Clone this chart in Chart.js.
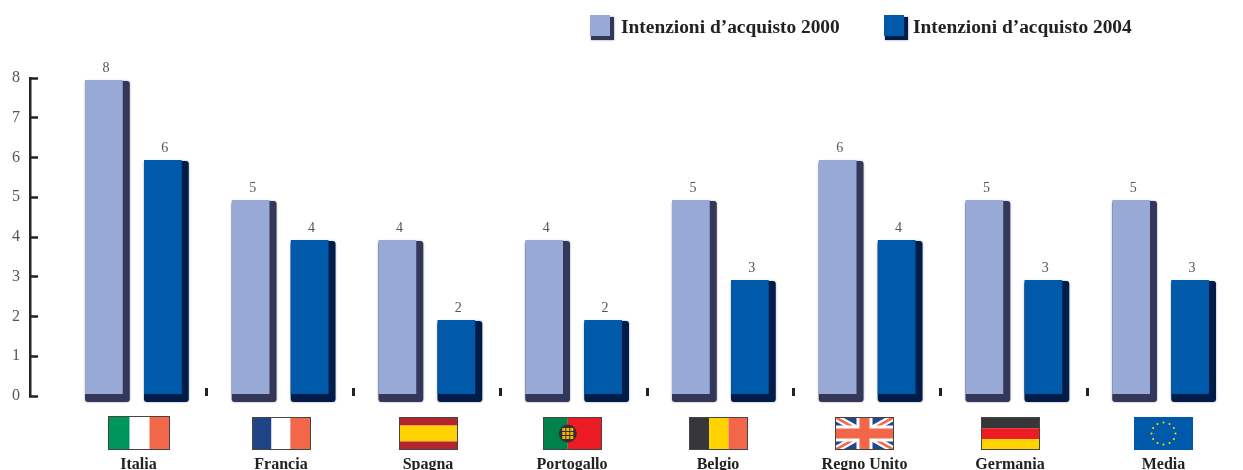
<!DOCTYPE html>
<html>
<head>
<meta charset="utf-8">
<title>Intenzioni d'acquisto</title>
<script src="https://cdn.jsdelivr.net/npm/chart.js@4"></script>
<style>
  html, body { margin: 0; padding: 0; background: #fff; }
  canvas { display: block; filter: blur(0.5px); }
</style>
</head>
<body>
<canvas id="myChart" width="1243" height="470"></canvas>
<script>
const categorie = ['Italia', 'Francia', 'Spagna', 'Portogallo', 'Belgio', 'Regno Unito', 'Germania', 'Media']
const valori2000 = [8, 5, 4, 4, 5, 6, 5, 5]
const valori2004 = [6, 4, 2, 2, 3, 4, 3, 3]
const tickY = [0, 1, 2, 3, 4, 5, 6, 7, 8]
const nomeSerie2000 = 'Intenzioni d’acquisto 2000'
const nomeSerie2004 = 'Intenzioni d’acquisto 2004'

// la riga bandiere/nomi non ha passo regolare: asse a parte, in pixel
const centriNomi = [138.5, 281, 428, 572, 718, 864.5, 1010, 1163.5]

const coloreChiaro = '#98a9d6'
const coloreScuro = '#0059a9'
const ombraChiaro = '#33375a'
const ombraScuro = '#001c48'
const serif = '"Liberation Serif", serif'

// bandiere disegnate a mano, una per paese
function strisceV(ctx, x, y, w, h, colori, pesi) {
  let cx = x
  colori.forEach((c, i) => {
    ctx.fillStyle = c
    ctx.fillRect(cx, y, w * pesi[i], h)
    cx += w * pesi[i]
  })
}
function strisceH(ctx, x, y, w, h, colori, pesi) {
  let cy = y
  colori.forEach((c, i) => {
    ctx.fillStyle = c
    ctx.fillRect(x, cy, w, h * pesi[i])
    cy += h * pesi[i]
  })
}
function bandieraUK(ctx, x, y, w, h) {
  ctx.fillStyle = '#20488c'
  ctx.fillRect(x, y, w, h)
  ctx.save()
  ctx.beginPath()
  ctx.rect(x, y, w, h)
  ctx.clip()
  ctx.strokeStyle = '#fff'
  ctx.lineWidth = 7
  ctx.beginPath()
  ctx.moveTo(x, y); ctx.lineTo(x + w, y + h)
  ctx.moveTo(x + w, y); ctx.lineTo(x, y + h)
  ctx.stroke()
  ctx.strokeStyle = '#f26649'
  ctx.lineWidth = 2.5
  ctx.stroke()
  ctx.restore()
  ctx.fillStyle = '#fff'
  ctx.fillRect(x + w / 2 - 8, y, 16, h)
  ctx.fillRect(x, y + h / 2 - 8, w, 16)
  ctx.fillStyle = '#f26649'
  ctx.fillRect(x + w / 2 - 5, y, 10, h)
  ctx.fillRect(x, y + h / 2 - 5, w, 10)
}
function bandieraPT(ctx, x, y, w, h) {
  strisceV(ctx, x, y, w, h, ['#00834b', '#ed1c24'], [0.42, 0.58])
  const cx = x + w * 0.42, cy = y + h / 2
  ctx.fillStyle = '#2f3033'
  ctx.beginPath()
  ctx.arc(cx, cy, 9, 0, Math.PI * 2)
  ctx.fill()
  ctx.fillStyle = '#f7b500'
  for (let dx = -4; dx <= 4; dx += 4) {
    for (let dy = -4; dy <= 4; dy += 4) {
      ctx.fillRect(cx + dx - 1.5, cy + dy - 1.5, 3, 3)
    }
  }
}
function bandieraUE(ctx, x, y, w, h) {
  ctx.fillStyle = '#005aa9'
  ctx.fillRect(x, y, w, h)
  ctx.fillStyle = '#ffe100'
  for (let i = 0; i < 12; i++) {
    const a = i * Math.PI / 6
    ctx.beginPath()
    ctx.arc(x + w / 2 + Math.cos(a) * 12, y + h / 2 + Math.sin(a) * 11, 1, 0, Math.PI * 2)
    ctx.fill()
  }
}
const bandiere = [
  (c, x, y, w, h) => strisceV(c, x, y, w, h, ['#00965a', '#fff', '#f26649'], [0.35, 0.32, 0.33]),
  (c, x, y, w, h) => strisceV(c, x, y, w, h, ['#1f4488', '#fff', '#f26649'], [0.33, 0.32, 0.35]),
  (c, x, y, w, h) => strisceH(c, x, y, w, h, ['#b5252e', '#ffd200', '#b5252e'], [0.26, 0.48, 0.26]),
  bandieraPT,
  (c, x, y, w, h) => strisceV(c, x, y, w, h, ['#36363b', '#ffd200', '#f26649'], [0.34, 0.33, 0.33]),
  bandieraUK,
  (c, x, y, w, h) => strisceH(c, x, y, w, h, ['#36363b', '#ed1c24', '#ffd200'], [0.34, 0.33, 0.33]),
  bandieraUE
]

// asse y spostato a sinistra rispetto all'area delle barre
const spostaAsse = {
  id: 'spostaAsse',
  afterLayout(chart) {
    chart.scales.y.left -= 30
    chart.scales.y.right -= 30
  }
}

const ombreBarre = {
  id: 'ombreBarre',
  beforeDatasetsDraw(chart) {
    const ctx = chart.ctx
    chart.data.datasets.forEach((ds, i) => {
      chart.getDatasetMeta(i).data.forEach(bar => {
        const sx = bar.x - bar.width / 2
        ctx.save()
        ctx.fillStyle = i === 0 ? ombraChiaro : ombraScuro
        ctx.shadowColor = 'rgba(40,40,60,0.5)'
        ctx.shadowBlur = 2
        ctx.beginPath()
        ctx.roundRect(sx, bar.y + 1, bar.width + 7, bar.base - bar.y + 7, 3)
        ctx.fill()
        ctx.restore()
      })
    })
  }
}

const etichetteValori = {
  id: 'etichetteValori',
  afterDatasetsDraw(chart) {
    const ctx = chart.ctx
    ctx.save()
    ctx.font = '14px ' + serif
    ctx.fillStyle = '#555'
    ctx.textAlign = 'center'
    ctx.textBaseline = 'alphabetic'
    chart.data.datasets.forEach((ds, i) => {
      chart.getDatasetMeta(i).data.forEach((bar, j) => {
        ctx.fillText(ds.data[j], bar.x + 2, bar.y - 8)
      })
    })
    ctx.restore()
  }
}

const disegnaBandiere = {
  id: 'disegnaBandiere',
  afterDraw(chart) {
    const ctx = chart.ctx
    const scala = chart.scales.xNomi
    bandiere.forEach((fn, i) => {
      const w = i === 0 ? 62 : 59
      const h = i === 0 ? 34 : 33
      const x = Math.round(scala.getPixelForValue(centriNomi[i]) - w / 2)
      const y = i === 0 ? 416 : 417
      fn(ctx, x, y, w, h)
      if (i !== 7) {
        ctx.strokeStyle = '#444'
        ctx.lineWidth = 1
        ctx.strokeRect(x + 0.5, y + 0.5, w - 1, h - 1)
      }
    })
  }
}

const legenda = {
  id: 'legenda',
  afterDraw(chart) {
    const ctx = chart.ctx
    const partenze = [590, 884]
    chart.data.datasets.forEach((ds, i) => {
      const x = partenze[i]
      ctx.save()
      ctx.fillStyle = i === 0 ? ombraChiaro : ombraScuro
      ctx.shadowColor = 'rgba(40,40,60,0.5)'
      ctx.shadowBlur = 2
      ctx.fillRect(x + 1, 17, 23, 23)
      ctx.restore()
      ctx.fillStyle = ds.backgroundColor
      ctx.fillRect(x, 15, 20, 21)
      ctx.font = 'bold 19.4px ' + serif
      ctx.fillStyle = '#222'
      ctx.textAlign = 'left'
      ctx.textBaseline = 'alphabetic'
      ctx.fillText(ds.label, x + (i === 0 ? 31 : 29), 33)
    })
  }
}

const ctx = document.getElementById('myChart').getContext('2d')
new Chart(ctx, {
  type: 'bar',
  data: {
    labels: categorie,
    datasets: [
      { label: nomeSerie2000, data: valori2000, backgroundColor: coloreChiaro, yAxisID: 'yBarre', xAxisID: 'x', base: 0.15 },
      { label: nomeSerie2004, data: valori2004, backgroundColor: coloreScuro, yAxisID: 'yBarre', xAxisID: 'x', base: 0.15 }
    ]
  },
  options: {
    responsive: false,
    animation: false,
    categoryPercentage: 0.804,
    barPercentage: 0.64,
    layout: { padding: { top: 78, right: 9, left: 0, bottom: 0 } },
    plugins: { legend: { display: false }, tooltip: { enabled: false } },
    scales: {
      x: {
        position: 'bottom',
        weight: 1,
        border: { display: false },
        grid: {
          offset: true,
          drawOnChartArea: false,
          tickLength: -8,
          tickWidth: 3,
          tickColor: c => (c.index >= 1 ? '#222' : 'rgba(0,0,0,0)')
        },
        ticks: { display: false },
        afterFit: s => { s.height = 0 }
      },
      xNomi: {
        type: 'linear',
        position: 'bottom',
        weight: 2,
        offset: false,
        min: 60,
        max: 1234,
        afterBuildTicks: s => { s.ticks = centriNomi.map(v => ({ value: v })) },
        border: { display: false },
        grid: { offset: false, drawOnChartArea: false, tickLength: 59, tickColor: 'rgba(0,0,0,0)' },
        ticks: {
          autoSkip: false,
          maxRotation: 0,
          padding: 0,
          color: '#222',
          font: { family: serif, size: 16, weight: 'bold' },
          callback: (v, i) => categorie[i]
        },
        afterFit: s => { s.height = 74 }
      },
      y: {
        position: 'left',
        min: 0,
        max: 8,
        afterBuildTicks: s => { s.ticks = tickY.map(v => ({ value: v })) },
        border: { display: true, color: '#222', width: 2.5 },
        grid: { drawOnChartArea: false, tickLength: -8, tickWidth: 2.5, tickColor: '#222' },
        ticks: {
          padding: 18,
          color: '#555',
          font: { family: serif, size: 16 }
        },
        afterFit: s => { s.width = 60 }
      },
      yBarre: {
        display: false,
        min: 0.1,
        max: 8.05
      }
    }
  },
  plugins: [spostaAsse, ombreBarre, etichetteValori, disegnaBandiere, legenda]
})
</script>
</body>
</html>
